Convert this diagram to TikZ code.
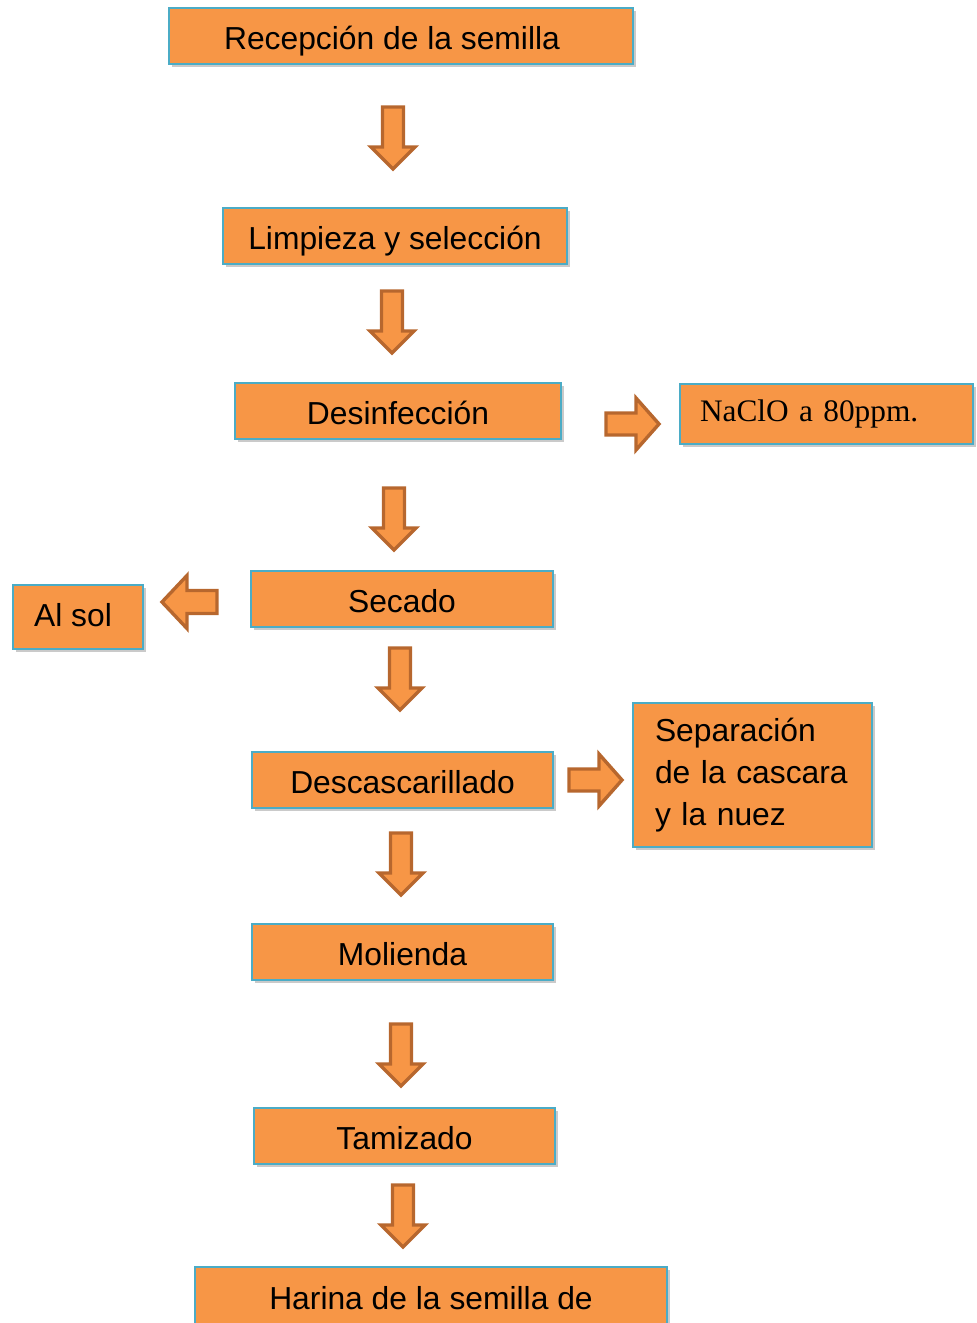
\documentclass[tikz,border=0pt]{standalone}
\usepackage{fontspec}
\setmainfont{Liberation Sans}
\newfontfamily\serifnac{Liberation Serif}
\usetikzlibrary{shadows}
\definecolor{boxfill}{HTML}{F79646}
\definecolor{boxborder}{HTML}{4BACC6}
\definecolor{arrfill}{HTML}{F79646}
\definecolor{arrborder}{HTML}{B7672E}
\tikzset{
  flowbox/.style={draw=boxborder, fill=boxfill, line width=1.5pt, inner sep=0pt,
    drop shadow={shadow xshift=2.5pt, shadow yshift=-2.5pt, opacity=0.35, fill=black!60},
    font=\fontsize{31.8}{42}\selectfont},
  oneline/.style={text height=30pt, text depth=4pt},
  arrstyle/.style={draw=arrborder, fill=arrfill, line width=3.4pt, line join=miter},
  darr/.pic={\path[arrstyle] (-10.5,0) -- (-10.5,40) -- (-22,40) -- (0,62) -- (22,40) -- (10.5,40) -- (10.5,0) -- cycle;},
  rarr/.pic={\path[arrstyle] (0,-11) -- (30,-11) -- (30,-26) -- (53,0) -- (30,26) -- (30,11) -- (0,11) -- cycle;},
  larr/.pic={\path[arrstyle] (0,-11.5) -- (-30,-11.5) -- (-30,-26.5) -- (-55,0) -- (-30,26.5) -- (-30,11.5) -- (0,11.5) -- cycle;}
}
\begin{document}
\begin{tikzpicture}[x=1pt,y=-1pt]
\useasboundingbox (0,0) rectangle (977,1323);
\node[flowbox, oneline, minimum width=464, minimum height=56] (rec) at (401,36) {\hspace*{-18pt}Recepción de la semilla};
\node[flowbox, oneline, minimum width=344, minimum height=56] (lim) at (395,236) {Limpieza y selección};
\node[flowbox, oneline, minimum width=326, minimum height=56] (des) at (398,411) {Desinfección};
\node[flowbox, minimum width=293, minimum height=60, text width=253, inner xsep=20pt, align=left, font=\serifnac\fontsize{31.3}{42}\selectfont] (nac) at (826.5,414) {NaClO a 80ppm.};
\node[flowbox, oneline, minimum width=302, minimum height=56] (sec) at (402,599) {Secado};
\node[flowbox, text height=22pt, text depth=4pt, minimum width=130, minimum height=64] (sol) at (78,617) {\hspace*{-10pt}Al sol};
\node[flowbox, oneline, minimum width=301, minimum height=56] (dsc) at (402.5,780) {Descascarillado};
\node[flowbox, minimum width=239, minimum height=144, text width=195, inner xsep=22pt, align=left] (sep) at (752.5,775) {Separación\\de la cascara\\y la nuez};
\node[flowbox, oneline, minimum width=301, minimum height=56] (mol) at (402.5,952) {Molienda};
\node[flowbox, oneline, minimum width=301, minimum height=56] (tam) at (404.5,1136) {Tamizado};
\node[flowbox, oneline, minimum width=472, minimum height=58] (har) at (431,1296) {Harina de la semilla de};
\pic at (393,107) {darr};
\pic at (392,291) {darr};
\pic at (394,488) {darr};
\pic at (400,648) {darr};
\pic at (401,833) {darr};
\pic at (401,1024) {darr};
\pic at (403,1185) {darr};
\pic at (606,424) {rarr};
\pic at (569,780) {rarr};
\pic at (217,602) {larr};
\end{tikzpicture}
\end{document}
